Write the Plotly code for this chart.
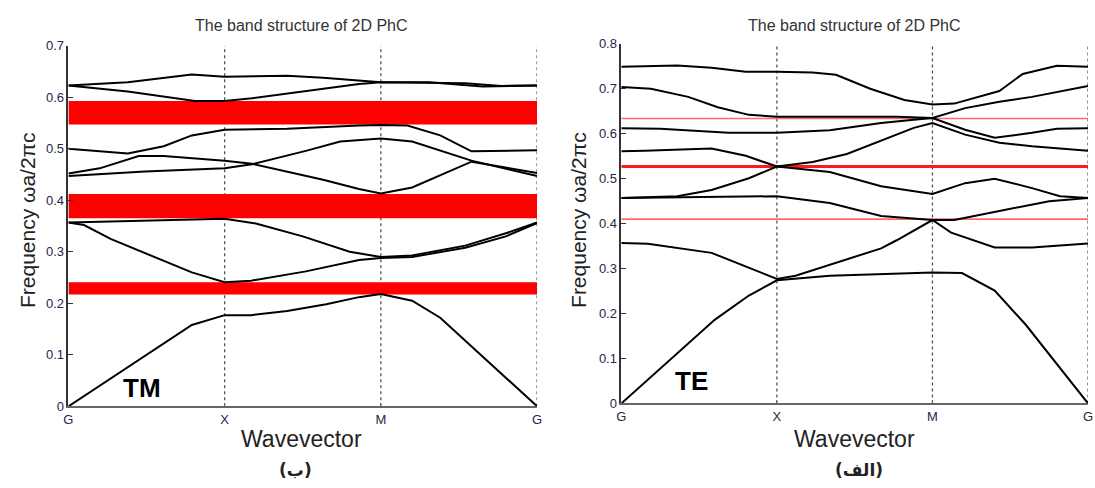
import plotly.graph_objects as go

# ---------------- data ----------------
kpoint_pos = [0, 1, 2, 3]
kpoint_labels = ["G", "X", "M", "G"]
tm_ticks = [0, 0.1, 0.2, 0.3, 0.4, 0.5, 0.6, 0.7]
te_ticks = [0, 0.1, 0.2, 0.3, 0.4, 0.5, 0.6, 0.7, 0.8]

# TM bands (left panel)
tm_b1_k = [0, 0.25, 0.5, 0.79, 1.0, 1.17, 1.4, 1.65, 1.86, 2.0, 2.2, 2.38, 2.6, 2.8, 3.0]
tm_b1_f = [0, 0.05, 0.10, 0.158, 0.177, 0.177, 0.185, 0.198, 0.212, 0.218, 0.205, 0.172, 0.111, 0.055, 0]
tm_b2_k = [0, 0.1, 0.27, 0.55, 0.79, 1.0, 1.17, 1.52, 1.86, 2.0, 2.2, 2.54, 2.8, 3.0]
tm_b2_f = [0.357, 0.352, 0.325, 0.290, 0.260, 0.241, 0.244, 0.262, 0.284, 0.288, 0.290, 0.308, 0.330, 0.356]
tm_b3_k = [0, 0.4, 1.0, 1.2, 1.5, 1.8, 2.0, 2.2, 2.54, 2.8, 3.0]
tm_b3_f = [0.357, 0.360, 0.364, 0.355, 0.330, 0.300, 0.290, 0.293, 0.312, 0.336, 0.357]
tm_b4_k = [0, 0.49, 1.0, 1.175, 1.52, 1.74, 2.0, 2.2, 2.58, 3.0]
tm_b4_f = [0.447, 0.456, 0.462, 0.470, 0.496, 0.514, 0.520, 0.514, 0.477, 0.447]
tm_b5_k = [0, 0.2, 0.45, 0.61, 1.0, 1.175, 1.63, 1.86, 2.0, 2.2, 2.58, 3.0]
tm_b5_f = [0.452, 0.462, 0.486, 0.486, 0.477, 0.471, 0.440, 0.422, 0.413, 0.425, 0.475, 0.453]
tm_b6_k = [0, 0.38, 0.61, 0.79, 1.0, 1.4, 1.86, 2.0, 2.17, 2.38, 2.58, 3.0]
tm_b6_f = [0.500, 0.491, 0.505, 0.526, 0.537, 0.539, 0.545, 0.546, 0.545, 0.526, 0.495, 0.497]
tm_b7_k = [0, 0.38, 0.81, 1.0, 1.175, 1.63, 1.86, 2.0, 2.54, 2.77, 3.0]
tm_b7_f = [0.623, 0.611, 0.593, 0.593, 0.598, 0.617, 0.626, 0.629, 0.627, 0.622, 0.623]
tm_b8_k = [0, 0.38, 0.79, 1.0, 1.4, 1.63, 2.0, 2.31, 2.65, 3.0]
tm_b8_f = [0.623, 0.629, 0.644, 0.640, 0.642, 0.638, 0.629, 0.629, 0.621, 0.623]

tm_gap_lo = [0.217, 0.365, 0.547]
tm_gap_hi = [0.241, 0.412, 0.593]

# TE bands (right panel)
te_b1_k = [0, 0.25, 0.6, 0.82, 1.0, 1.34, 2.0, 2.19, 2.4, 2.6, 3.0]
te_b1_f = [0, 0.078, 0.186, 0.240, 0.274, 0.284, 0.291, 0.290, 0.251, 0.175, 0]
te_b2_k = [0, 0.17, 0.58, 0.82, 1.0, 1.12, 1.38, 1.67, 1.77, 1.88, 2.0, 2.12, 2.4, 2.64, 3.0]
te_b2_f = [0.357, 0.355, 0.335, 0.302, 0.277, 0.284, 0.313, 0.345, 0.363, 0.385, 0.408, 0.380, 0.347, 0.347, 0.356]
te_b3_k = [0, 1.0, 1.34, 1.67, 2.0, 2.14, 2.43, 2.75, 3.0]
te_b3_f = [0.457, 0.461, 0.446, 0.417, 0.408, 0.408, 0.428, 0.450, 0.457]
te_b4_k = [0, 0.36, 0.58, 0.82, 1.0, 1.23, 1.45, 1.67, 1.88, 2.0, 2.21, 2.43, 2.64, 3.0]
te_b4_f = [0.457, 0.461, 0.475, 0.501, 0.527, 0.537, 0.555, 0.584, 0.613, 0.624, 0.598, 0.580, 0.572, 0.562]
te_b5_k = [0, 0.15, 0.58, 0.8, 1.0, 1.34, 1.67, 2.0, 2.21, 2.4, 2.64, 2.82, 3.0]
te_b5_f = [0.561, 0.562, 0.567, 0.551, 0.527, 0.515, 0.483, 0.466, 0.490, 0.500, 0.479, 0.461, 0.457]
te_b6_k = [0, 0.25, 0.69, 1.0, 1.34, 1.67, 1.88, 2.0, 2.21, 2.4, 2.64, 2.8, 3.0]
te_b6_f = [0.612, 0.611, 0.602, 0.602, 0.608, 0.624, 0.631, 0.635, 0.609, 0.591, 0.602, 0.611, 0.612]
te_b7_k = [0, 0.19, 0.43, 0.62, 0.82, 1.0, 1.77, 2.0, 2.21, 2.43, 2.64, 3.0]
te_b7_f = [0.704, 0.700, 0.682, 0.659, 0.642, 0.638, 0.638, 0.635, 0.657, 0.671, 0.682, 0.706]
te_b8_k = [0, 0.36, 0.58, 0.8, 1.0, 1.23, 1.38, 1.6, 1.82, 2.0, 2.14, 2.43, 2.58, 2.8, 3.0]
te_b8_f = [0.749, 0.752, 0.747, 0.738, 0.738, 0.736, 0.731, 0.700, 0.675, 0.665, 0.667, 0.695, 0.733, 0.751, 0.749]

te_gap_lines = [0.410, 0.527, 0.634]
te_gap_widths = [1.6, 3.0, 1.6]
te_gap_colors = ["#ff6a6a", "#ff1a1a", "#ff6a6a"]

# ---------------- figure ----------------
W, H = 1095, 488
FONT = "Liberation Sans, Arial, sans-serif"


def px(tx):
    return tx / W


def py(ty):
    return 1 - ty / H


fig = go.Figure()

tm_bands = [(tm_b1_k, tm_b1_f), (tm_b2_k, tm_b2_f), (tm_b3_k, tm_b3_f), (tm_b4_k, tm_b4_f),
            (tm_b5_k, tm_b5_f), (tm_b6_k, tm_b6_f), (tm_b7_k, tm_b7_f), (tm_b8_k, tm_b8_f)]
te_bands = [(te_b1_k, te_b1_f), (te_b2_k, te_b2_f), (te_b3_k, te_b3_f), (te_b4_k, te_b4_f),
            (te_b5_k, te_b5_f), (te_b6_k, te_b6_f), (te_b7_k, te_b7_f), (te_b8_k, te_b8_f)]

for k, f in tm_bands:
    fig.add_trace(go.Scatter(x=k, y=f, mode="lines", xaxis="x", yaxis="y",
                             line=dict(color="black", width=2), showlegend=False, hoverinfo="skip"))
for k, f in te_bands:
    fig.add_trace(go.Scatter(x=k, y=f, mode="lines", xaxis="x2", yaxis="y2",
                             line=dict(color="black", width=2), showlegend=False, hoverinfo="skip"))

shapes = []
for xk in kpoint_pos[1:]:
    shapes.append(dict(type="line", xref="x", yref="y", x0=xk, x1=xk, y0=0, y1=tm_ticks[-1],
                       line=dict(color="#555555", width=1.3, dash="dot"), layer="below"))
    shapes.append(dict(type="line", xref="x2", yref="y2", x0=xk, x1=xk, y0=0, y1=te_ticks[-1],
                       line=dict(color="#555555", width=1.3, dash="dot"), layer="below"))
for lo, hi in zip(tm_gap_lo, tm_gap_hi):
    shapes.append(dict(type="rect", xref="x", yref="y", x0=kpoint_pos[0], x1=kpoint_pos[-1],
                       y0=lo, y1=hi, fillcolor="#ff0000", line=dict(width=0), layer="below"))
for yv, lw, c in zip(te_gap_lines, te_gap_widths, te_gap_colors):
    shapes.append(dict(type="line", xref="x2", yref="y2", x0=kpoint_pos[0], x1=kpoint_pos[-1],
                       y0=yv, y1=yv, line=dict(color=c, width=lw), layer="below"))

tickfont = dict(family=FONT, size=13, color="#26264a")


def xax(domain, anchor):
    return dict(domain=domain, anchor=anchor, range=[0, kpoint_pos[-1]], tickvals=kpoint_pos,
                ticktext=kpoint_labels,
                showgrid=False, zeroline=False, showline=True, linecolor="#666666", linewidth=1.5,
                ticks="inside", ticklen=4, tickcolor="#666666", tickfont=tickfont, fixedrange=True)


def yax(domain, anchor, ticks):
    return dict(domain=domain, anchor=anchor, range=[0, ticks[-1]], tickvals=ticks,
                ticktext=[("%g" % t) for t in ticks],
                showgrid=False, zeroline=False, showline=True, linecolor="#333333", linewidth=1.5,
                ticks="inside", ticklen=5, tickcolor="#333333", tickfont=tickfont, fixedrange=True)


# pixel positions of the axes in the 1095x488 picture
L_X0, L_X1, L_Y0, L_Y1 = 64, 537, 412, 40
R_X0, R_X1, R_Y0, R_Y1 = 622, 1093, 409, 38

annotations = []
for cx, capx, cap in [(299, 293, "<b>(ب)</b>"), (857, 862, "<b>(الف)</b>")]:
    annotations.append(dict(text="The band structure of 2D PhC", x=px(cx), y=py(19), xref="paper", yref="paper",
                            showarrow=False, xanchor="center", yanchor="middle",
                            font=dict(family=FONT, size=16, color="#333333")))
    annotations.append(dict(text="Wavevector", x=px(cx), y=py(446), xref="paper", yref="paper",
                            showarrow=False, xanchor="center", yanchor="middle",
                            font=dict(family=FONT, size=23, color="#222222")))
    annotations.append(dict(text=cap, x=px(capx), y=py(478), xref="paper", yref="paper",
                            showarrow=False, xanchor="center", yanchor="middle",
                            font=dict(family="DejaVu Sans, sans-serif", size=17, color="#222222")))
for yx in [22, 579]:
    annotations.append(dict(text="Frequency ωa/2πc", x=px(yx), y=py(220), xref="paper", yref="paper",
                            showarrow=False, xanchor="center", yanchor="middle", textangle=-90,
                            font=dict(family=FONT, size=21, color="#222222")))
annotations.append(dict(text="<b>TM</b>", x=0.47, y=0.036, xref="x", yref="y", showarrow=False,
                        xanchor="center", yanchor="middle", font=dict(family=FONT, size=26, color="black")))
annotations.append(dict(text="<b>TE</b>", x=0.45, y=0.05, xref="x2", yref="y2", showarrow=False,
                        xanchor="center", yanchor="middle", font=dict(family=FONT, size=26, color="black")))

fig.update_layout(
    width=W, height=H, autosize=False,
    margin=dict(l=0, r=0, t=0, b=0),
    paper_bgcolor="white", plot_bgcolor="white",
    xaxis=xax([px(L_X0), px(L_X1)], "y"),
    yaxis=yax([py(L_Y0), py(L_Y1)], "x", tm_ticks),
    xaxis2=xax([px(R_X0), px(R_X1)], "y2"),
    yaxis2=yax([py(R_Y0), py(R_Y1)], "x2", te_ticks),
    shapes=shapes, annotations=annotations, showlegend=False,
)

fig.write_html(
    "out.html",
    config={"displayModeBar": False},
    post_script="document.body.style.margin='0px';"
                "document.body.style.overflow='hidden';"
                "document.documentElement.style.overflow='hidden';",
)
